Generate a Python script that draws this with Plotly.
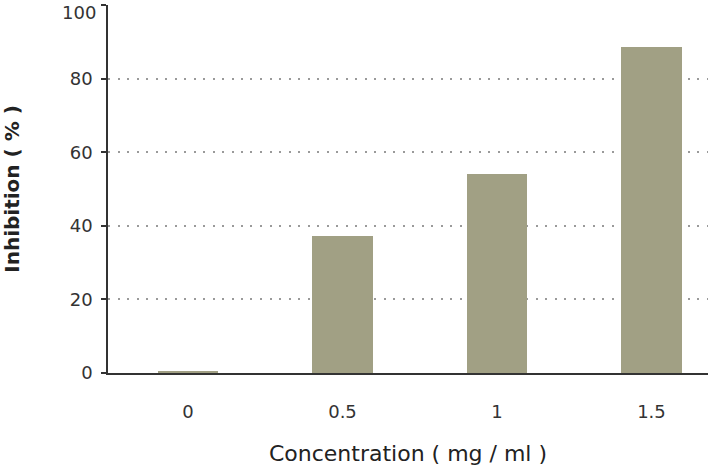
import plotly.graph_objects as go

categories = ["0", "0.5", "1", "1.5"]
inhibition = [0.6, 37.2, 54.1, 88.5]
y_ticks = [0, 20, 40, 60, 80, 100]
grid_vals = [20, 40, 60, 80]

FONT = "DejaVu Sans"
TICK_COLOR = "#333333"

fig = go.Figure()
fig.add_trace(go.Bar(
    x=categories, y=inhibition, width=0.39,
    marker=dict(color="#a1a084", line=dict(width=0)),
))
# invisible trace to activate the grid axis
fig.add_trace(go.Scatter(x=[categories[0]], y=[None], yaxis="y2", showlegend=False, hoverinfo="skip"))

# top tick label is nudged down (as in the reference) so it is not clipped
top_tick = y_ticks[-1]
tick_text = [str(v) if v != top_tick else "" for v in y_ticks]

fig.update_layout(
    width=708, height=469,
    margin=dict(l=108, r=0, t=5, b=96),
    paper_bgcolor="white", plot_bgcolor="white",
    showlegend=False,
    font=dict(family=FONT, color=TICK_COLOR),
    bargap=0,
    yaxis2=dict(
        overlaying="y", side="left", range=[0, 100], tickvals=grid_vals,
        showticklabels=False, ticks="", showline=False, zeroline=False,
        showgrid=True, gridcolor="#9a9a9a", gridwidth=2, griddash="2px,7.5px",
        automargin=False, layer="below traces",
    ),
    annotations=[dict(
        text=str(top_tick), x=0, xref="paper", y=top_tick, yref="y",
        xanchor="right", yanchor="top", xshift=-11, yshift=4, showarrow=False,
        font=dict(size=18, color=TICK_COLOR), borderpad=0,
    )],
)

fig.update_xaxes(
    type="category", range=[-0.518, 3.366], automargin=False,
    showline=True, linecolor="#333333", linewidth=1.5,
    showgrid=False, ticks="outside", ticklen=22, tickcolor="rgba(0,0,0,0)",
    tickfont=dict(size=18, color=TICK_COLOR),
    title=dict(text="Concentration ( mg / ml )", font=dict(size=22, color="#222222"), standoff=24),
)
fig.layout.yaxis.update(
    range=[0, 100], tickvals=y_ticks, ticktext=tick_text, automargin=False,
    showline=True, linecolor="#333333", linewidth=1.5,
    ticks="outside", ticklen=5, tickcolor="#333333", tickwidth=1.5,
    tickfont=dict(size=18, color=TICK_COLOR), ticklabelstandoff=5,
    showgrid=False, zeroline=False,
    title=dict(text="<b>Inhibition ( % )</b>", font=dict(size=20, color="#222222"), standoff=53),
)

fig.write_html("out.html", post_script="document.body.style.margin='0';",
               config={"displayModeBar": False})
